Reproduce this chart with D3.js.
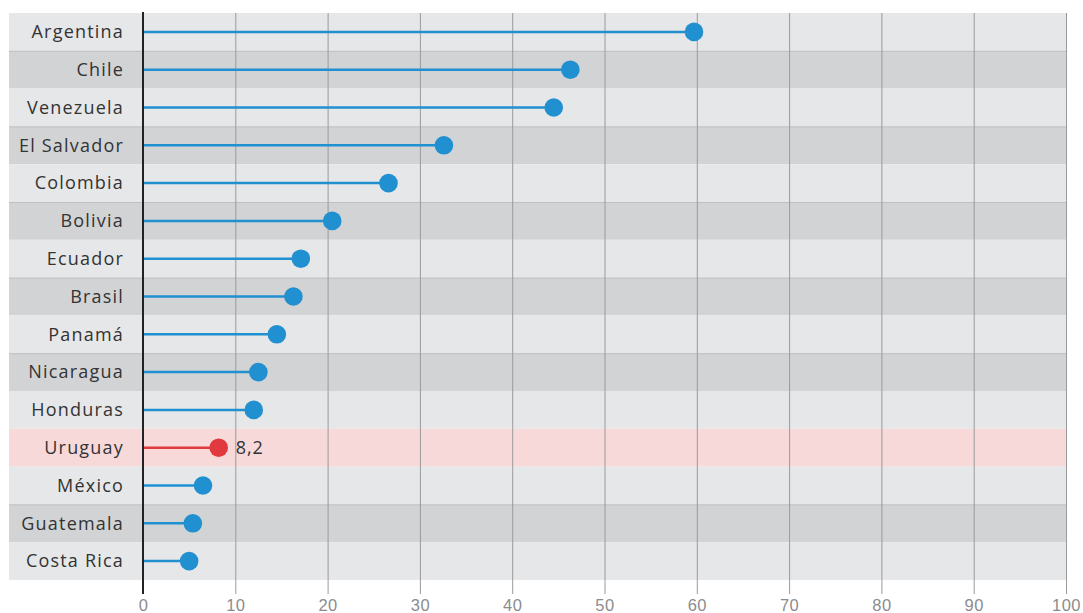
<!DOCTYPE html>
<html>
<head>
<meta charset="utf-8">
<script src="https://cdn.jsdelivr.net/npm/d3@7"></script>
<style>
  body { margin: 0; background: #fff; }
  svg { display: block; font-family: "Open Sans", Roboto, "DejaVu Sans", sans-serif; }
</style>
</head>
<body>
<div id="chart"></div>
<script>
// Countries, top to bottom, and their values
const countries = ["Argentina", "Chile", "Venezuela", "El Salvador", "Colombia", "Bolivia", "Ecuador",
  "Brasil", "Panamá", "Nicaragua", "Honduras", "Uruguay", "México", "Guatemala", "Costa Rica"];
const values = [59.7, 46.3, 44.5, 32.6, 26.6, 20.5, 17.1, 16.3, 14.5, 12.5, 12.0, 8.2, 6.5, 5.4, 5.0];
const xTicks = [0, 10, 20, 30, 40, 50, 60, 70, 80, 90, 100];
const highlight = "Uruguay";
const highlightLabel = "8,2";

const W = 1083, H = 613;
const margin = { top: 13, left: 143, right: 17, bottom: 33 };
const bandLeft = 9;

const data = countries.map((c, i) => ({ country: c, value: values[i] }));

const svg = d3.select("#chart").append("svg")
  .attr("width", W)
  .attr("height", H);

const xScale = d3.scaleLinear()
  .domain([0, 100])
  .range([margin.left, W - margin.right]);

const yScale = d3.scaleBand()
  .domain(countries)
  .range([margin.top, H - margin.bottom])
  .padding(0);

// row backgrounds
svg.selectAll("rect.row")
  .data(data)
  .enter().append("rect")
  .attr("class", "row")
  .attr("x", bandLeft)
  .attr("y", d => yScale(d.country))
  .attr("width", xScale(100) - bandLeft)
  .attr("height", yScale.bandwidth())
  .attr("fill", (d, i) => d.country === highlight ? "#f7d9da" : (i % 2 ? "#d2d3d5" : "#e6e7e9"));

// thin line on top of darker rows
svg.selectAll("line.rowline")
  .data(data.filter((d, i) => i % 2 === 1 && d.country !== highlight))
  .enter().append("line")
  .attr("x1", bandLeft)
  .attr("x2", xScale(100))
  .attr("y1", d => yScale(d.country) + 0.5)
  .attr("y2", d => yScale(d.country) + 0.5)
  .attr("stroke", "#bfc0c2")
  .attr("stroke-width", 1);

// x axis with gridlines
const axisBottom = H - margin.bottom + 14;
const xAxis = svg.append("g")
  .attr("transform", "translate(0," + axisBottom + ")")
  .call(d3.axisBottom(xScale)
    .tickValues(xTicks)
    .tickSizeInner(-(axisBottom - margin.top))
    .tickPadding(4));
xAxis.select(".domain").remove();
xAxis.selectAll(".tick line")
  .attr("stroke", "#9a9a9c")
  .attr("stroke-width", 1);
xAxis.selectAll(".tick text")
  .attr("y", 5)
  .attr("dy", "0.71em")
  .attr("fill", "#8c8c8e")
  .style("font-size", "16.5px")
  .style("letter-spacing", "0.5px");

// zero line
svg.append("line")
  .attr("x1", xScale(0))
  .attr("x2", xScale(0))
  .attr("y1", margin.top - 1)
  .attr("y2", axisBottom)
  .attr("stroke", "#222")
  .attr("stroke-width", 2);

// country labels
svg.selectAll("text.country")
  .data(data)
  .enter().append("text")
  .attr("class", "country")
  .attr("x", 124)
  .attr("y", d => yScale(d.country) + yScale.bandwidth() / 2)
  .attr("dy", "0.35em")
  .attr("text-anchor", "end")
  .attr("fill", "#333")
  .style("font-size", "18px")
  .style("letter-spacing", "1.2px")
  .text(d => d.country);

const color = d => d.country === highlight ? "#e0393e" : "#2190d0";

// stems
svg.selectAll("line.stem")
  .data(data)
  .enter().append("line")
  .attr("class", "stem")
  .attr("x1", xScale(0) + 1)
  .attr("x2", d => xScale(d.value))
  .attr("y1", d => yScale(d.country) + yScale.bandwidth() / 2)
  .attr("y2", d => yScale(d.country) + yScale.bandwidth() / 2)
  .attr("stroke", color)
  .attr("stroke-width", 2.5);

// dots
svg.selectAll("circle.dot")
  .data(data)
  .enter().append("circle")
  .attr("class", "dot")
  .attr("cx", d => xScale(d.value))
  .attr("cy", d => yScale(d.country) + yScale.bandwidth() / 2)
  .attr("r", 9.3)
  .attr("fill", color);

// value label for highlighted country
const hl = data.find(d => d.country === highlight);
svg.append("text")
  .attr("x", xScale(hl.value) + 17)
  .attr("y", yScale(hl.country) + yScale.bandwidth() / 2)
  .attr("dy", "0.35em")
  .attr("fill", "#333")
  .style("font-size", "18px")
  .style("letter-spacing", "1px")
  .text(highlightLabel);
</script>
</body>
</html>
